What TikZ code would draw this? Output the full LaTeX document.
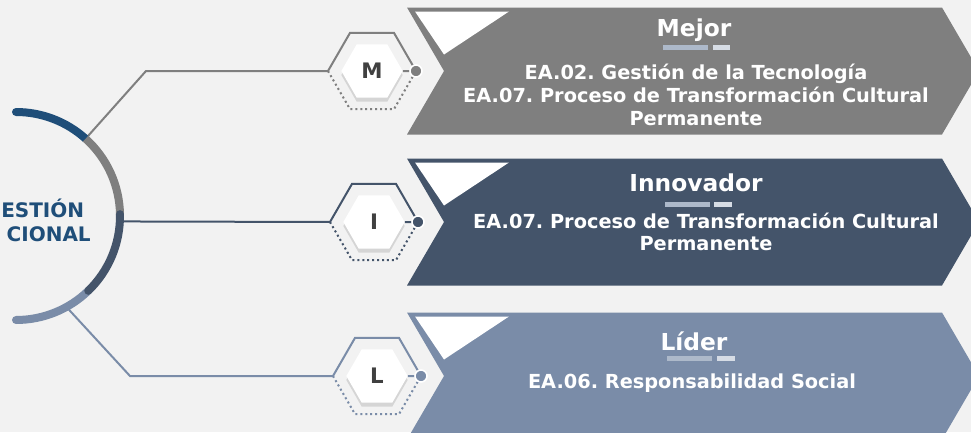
\documentclass[tikz,border=0pt]{standalone}
\usepackage{fontspec}
\setmainfont{DejaVu Sans}
\frenchspacing
\usetikzlibrary{calc, shapes.geometric, shadows, backgrounds}

\definecolor{fondo}{HTML}{F2F2F2}
\definecolor{gris}{HTML}{7F7F7F}
\definecolor{pizarra}{HTML}{44546A}
\definecolor{acero}{HTML}{7A8CA8}
\definecolor{marino}{HTML}{1F4E79}
\definecolor{letra}{HTML}{404040}
\definecolor{raya}{HTML}{ADB9CA}
\definecolor{rayaclara}{HTML}{D6DCE5}

\begin{document}
\begin{tikzpicture}[x=0.75pt,y=-0.75pt,
  background rectangle/.style={fill=fondo},show background rectangle,inner frame sep=0pt,
  hexa/.style={shape=regular polygon,regular polygon sides=6,minimum size=46pt,inner sep=0pt,fill=white,
    drop shadow={shadow xshift=0pt,shadow yshift=-3pt,opacity=0.25},text=letra,font=\bfseries\fontsize{16}{16}\selectfont},
  punto/.style={circle,fill=#1,draw=white,line width=1.2pt,minimum size=9pt,inner sep=0pt},
  titulo/.style={text=white,font=\bfseries\fontsize{17.5}{20}\selectfont},
  cuerpo/.style={text=white,align=center,font=\bfseries\fontsize{14.5}{17}\selectfont},
  guion/.style={line width=3.75pt},
  enlace/.style={line width=1.5pt}]

\useasboundingbox (0,0) rectangle (971,432);

% Bands, hexagons and their frames
\foreach \n/\l/\c/\y/\hx in {m/M/gris/71/372, i/I/pizarra/222/374, l/L/acero/376/377} {
  \fill[\c] (407,\y-63.5) -- (942,\y-63.5) -- (979,\y) -- (942,\y+63.5) -- (407,\y+63.5) -- (444,\y) -- cycle;
  \fill[white] (415,\y-59.5) -- (509,\y-59.5) -- (444,\y-16.5) -- cycle;
  \node[hexa] (h\n) at (\hx,\y) {\l};
  \coordinate (w\n) at ($(h\n)+(180:44)$);
  \coordinate (e\n) at ($(h\n)+(0:44)$);
  \draw[\c,enlace] (w\n) -- ($(h\n)+(-120:44)$) -- ($(h\n)+(-60:44)$) -- (e\n);
  \draw[\c,enlace,dash pattern=on 1.5pt off 2.2pt] (w\n) -- ($(h\n)+(120:44)$) -- ($(h\n)+(60:44)$) -- (e\n);
  \draw[\c,enlace] (h\n.east) -- (e\n);
  \node[punto=\c] (p\n) at (e\n) {};
}

% Links from the semicircle to the hexagons
\coordinate (c) at (16,216);
\coordinate (am) at ($(c)+(-48:104)$);
\coordinate (ai) at ($(c)+(3:104)$);
\coordinate (al) at ($(c)+(61:104)$);
\draw[gris,enlace] (am) -- (146,71) -- (wm);
\draw[pizarra,enlace] (ai) -- (wi);
\draw[acero,enlace] (al) -- (130,376) -- (wl);

% The semicircle
\draw[marino,line width=6pt,line cap=round] (c) ++(-90:104) arc[start angle=-90,end angle=-48,radius=104];
\draw[acero,line width=6pt,line cap=round] (c) ++(46:104) arc[start angle=46,end angle=90,radius=104];
\draw[gris,line width=6pt] (c) ++(-48:104) arc[start angle=-48,end angle=-1,radius=104];
\draw[pizarra,line width=6pt,line cap=round] (c) ++(-1:104) arc[start angle=-1,end angle=46,radius=104];

\node[anchor=west,inner sep=0pt,text=marino,font=\bfseries\fontsize{15}{15}\selectfont] (g1) at (1,208) {ESTIÓN};
\node[anchor=east,inner sep=0pt,text=marino,font=\bfseries\fontsize{15}{15}\selectfont] (g2) at (91,234) {CIONAL};

% Texts in the bands
\node[titulo] (tm) at (694,30) {Mejor};
\draw[guion,raya] (663,47) -- (708,47);
\draw[guion,rayaclara] (713,47) -- (730,47);
\node[cuerpo] (bm) at (696,95) {EA.02. Gestión de la Tecnología\\EA.07. Proceso de Transformación Cultural\\Permanente};

\node[titulo] (ti) at (696,183) {Innovador};
\draw[guion,raya] (665,204) -- (710,204);
\draw[guion,rayaclara] (714,204) -- (732,204);
\node[cuerpo] (bi) at (706,232) {EA.07. Proceso de Transformación Cultural\\Permanente};

\node[titulo] (tl) at (694,341) {Líder};
\draw[guion,raya] (667,358) -- (712,358);
\draw[guion,rayaclara] (717,358) -- (735,358);
\node[cuerpo] (bl) at (692,383) {EA.06. Responsabilidad Social};

\end{tikzpicture}
\end{document}
